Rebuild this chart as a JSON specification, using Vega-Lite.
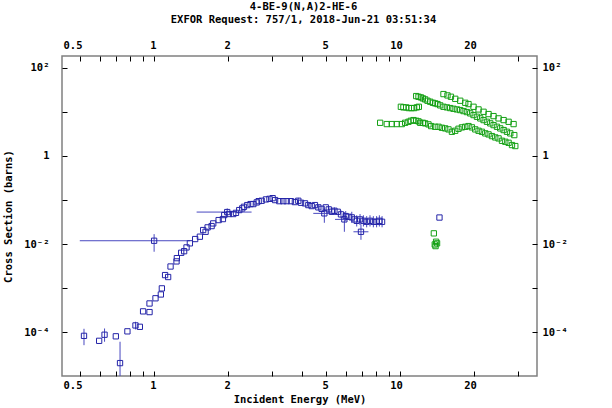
{
  "$schema": "https://vega.github.io/schema/vega-lite/v6.json",
  "autosize": {"type": "none"},
  "padding": {"left": 62, "top": 56, "right": 75, "bottom": 32},
  "width": 475,
  "height": 320,
  "background": "white",
  "config": {
    "view": {"stroke": "#808080", "strokeWidth": 1.5},
    "font": "DejaVu Sans Mono"
  },
  "title": {
    "text": ["4-BE-9(N,A)2-HE-6", "EXFOR Request: 757/1, 2018-Jun-21 03:51:34"],
    "font": "DejaVu Sans Mono",
    "fontWeight": "bold",
    "fontSize": 10.5,
    "lineHeight": 13,
    "anchor": "middle",
    "dx": 4,
    "offset": 15,
    "color": "black"
  },
  "datasets": {
    "blue": [
      {"e": 0.519, "s": 8.3e-5, "lo": 5.1e-5, "hi": 1.2e-4},
      {"e": 0.598, "s": 6.4e-5},
      {"e": 0.629, "s": 8.8e-5, "lo": 6.1e-5, "hi": 1.22e-4},
      {"e": 0.699, "s": 8.1e-5},
      {"e": 0.727, "s": 2.0e-5, "lo": 1e-6, "hi": 6.1e-5},
      {"e": 0.779, "s": 1.05e-4},
      {"e": 0.840, "s": 1.43e-4, "lo": 1.16e-4, "hi": 1.73e-4},
      {"e": 0.875, "s": 1.33e-4},
      {"e": 0.902, "s": 2.98e-4},
      {"e": 0.958, "s": 2.87e-4},
      {"e": 0.958, "s": 4.5e-4},
      {"e": 1.0, "s": 0.0119, "lo": 0.0067, "hi": 0.0168, "xlo": 0.499, "xhi": 1.397},
      {"e": 1.013, "s": 5.9e-4},
      {"e": 1.065, "s": 7.2e-4},
      {"e": 1.075, "s": 9.9e-4},
      {"e": 1.108, "s": 1.98e-3},
      {"e": 1.140, "s": 1.79e-3},
      {"e": 1.166, "s": 3.1e-3},
      {"e": 1.233, "s": 4.05e-3},
      {"e": 1.237, "s": 4.8e-3},
      {"e": 1.288, "s": 6.35e-3},
      {"e": 1.324, "s": 6.9e-3},
      {"e": 1.354, "s": 8.4e-3},
      {"e": 1.397, "s": 0.0104},
      {"e": 1.468, "s": 0.013},
      {"e": 1.534, "s": 0.0147},
      {"e": 1.582, "s": 0.0208},
      {"e": 1.618, "s": 0.019},
      {"e": 1.649, "s": 0.0239},
      {"e": 1.712, "s": 0.0256},
      {"e": 1.738, "s": 0.0294},
      {"e": 1.828, "s": 0.035},
      {"e": 1.903, "s": 0.0369},
      {"e": 1.927, "s": 0.0455},
      {"e": 1.981, "s": 0.0532, "lo": 0.0416, "hi": 0.0645, "xlo": 1.488, "xhi": 2.488},
      {"e": 2.01, "s": 0.048},
      {"e": 2.096, "s": 0.048},
      {"e": 2.15, "s": 0.051},
      {"e": 2.217, "s": 0.059},
      {"e": 2.28, "s": 0.0645},
      {"e": 2.317, "s": 0.070},
      {"e": 2.389, "s": 0.0766},
      {"e": 2.464, "s": 0.0807},
      {"e": 2.53, "s": 0.0807},
      {"e": 2.61, "s": 0.088},
      {"e": 2.658, "s": 0.094},
      {"e": 2.734, "s": 0.096},
      {"e": 2.846, "s": 0.103},
      {"e": 2.94, "s": 0.106},
      {"e": 3.03, "s": 0.110},
      {"e": 3.10, "s": 0.0995},
      {"e": 3.224, "s": 0.094},
      {"e": 3.346, "s": 0.094},
      {"e": 3.455, "s": 0.094},
      {"e": 3.596, "s": 0.094},
      {"e": 3.73, "s": 0.0896},
      {"e": 3.851, "s": 0.096, "lo": 0.082, "hi": 0.112},
      {"e": 3.95, "s": 0.0865},
      {"e": 4.10, "s": 0.0838},
      {"e": 4.23, "s": 0.0766, "lo": 0.068, "hi": 0.086},
      {"e": 4.366, "s": 0.0727},
      {"e": 4.50, "s": 0.0766},
      {"e": 4.645, "s": 0.068, "lo": 0.059, "hi": 0.078},
      {"e": 4.79, "s": 0.063},
      {"e": 4.913, "s": 0.0497, "lo": 0.0304, "hi": 0.0645, "xlo": 4.43, "xhi": 5.53},
      {"e": 4.98, "s": 0.068},
      {"e": 5.12, "s": 0.0612, "lo": 0.052, "hi": 0.072},
      {"e": 5.27, "s": 0.054},
      {"e": 5.40, "s": 0.0569, "lo": 0.047, "hi": 0.068},
      {"e": 5.57, "s": 0.054},
      {"e": 5.74, "s": 0.0472, "lo": 0.038, "hi": 0.058},
      {"e": 5.925, "s": 0.0363, "lo": 0.019, "hi": 0.053, "xlo": 5.43, "xhi": 6.26},
      {"e": 6.0, "s": 0.0432, "lo": 0.033, "hi": 0.056},
      {"e": 6.16, "s": 0.0416},
      {"e": 6.35, "s": 0.0403, "lo": 0.030, "hi": 0.054},
      {"e": 6.52, "s": 0.0363},
      {"e": 6.65, "s": 0.0337, "lo": 0.025, "hi": 0.045},
      {"e": 6.86, "s": 0.0363, "lo": 0.027, "hi": 0.048},
      {"e": 6.92, "s": 0.019, "lo": 0.0125, "hi": 0.028, "xlo": 6.45, "xhi": 7.42},
      {"e": 7.08, "s": 0.0337, "lo": 0.025, "hi": 0.045},
      {"e": 7.30, "s": 0.032, "lo": 0.024, "hi": 0.043},
      {"e": 7.53, "s": 0.0337, "lo": 0.025, "hi": 0.045},
      {"e": 7.77, "s": 0.032, "lo": 0.024, "hi": 0.043},
      {"e": 8.01, "s": 0.032, "lo": 0.024, "hi": 0.043},
      {"e": 8.22, "s": 0.0337, "lo": 0.025, "hi": 0.045},
      {"e": 8.43, "s": 0.032, "lo": 0.024, "hi": 0.043},
      {"e": 14.42, "s": 0.040}
    ],
    "green": [
      {"e": 8.28, "s": 5.63}, {"e": 8.81, "s": 5.26}, {"e": 9.23, "s": 5.26}, {"e": 9.67, "s": 5.26},
      {"e": 10.14, "s": 5.26}, {"e": 10.46, "s": 5.63}, {"e": 10.79, "s": 5.93}, {"e": 11.03, "s": 6.25},
      {"e": 11.31, "s": 6.48}, {"e": 11.60, "s": 6.25}, {"e": 11.85, "s": 6.06}, {"e": 12.04, "s": 5.63},
      {"e": 12.35, "s": 5.63}, {"e": 12.61, "s": 5.46}, {"e": 13.01, "s": 5.18}, {"e": 13.34, "s": 4.74},
      {"e": 13.85, "s": 4.57}, {"e": 14.29, "s": 4.57}, {"e": 14.75, "s": 4.34}, {"e": 15.21, "s": 4.2},
      {"e": 15.69, "s": 3.99}, {"e": 16.20, "s": 3.52}, {"e": 16.71, "s": 3.71}, {"e": 17.23, "s": 4.12},
      {"e": 17.79, "s": 4.43}, {"e": 18.35, "s": 4.57}, {"e": 18.92, "s": 4.74}, {"e": 19.53, "s": 4.43},
      {"e": 20.15, "s": 3.99}, {"e": 20.78, "s": 3.71}, {"e": 21.45, "s": 3.52}, {"e": 22.13, "s": 3.24},
      {"e": 22.82, "s": 3.07}, {"e": 23.56, "s": 2.81}, {"e": 24.30, "s": 2.62}, {"e": 25.06, "s": 2.49},
      {"e": 25.87, "s": 2.20}, {"e": 26.69, "s": 2.09}, {"e": 27.53, "s": 1.98}, {"e": 28.41, "s": 1.76},
      {"e": 29.31, "s": 1.67},
      {"e": 10.05, "s": 12.98}, {"e": 10.29, "s": 12.58}, {"e": 10.56, "s": 12.58}, {"e": 10.83, "s": 12.13},
      {"e": 11.10, "s": 12.13}, {"e": 11.38, "s": 12.13}, {"e": 11.67, "s": 12.58}, {"e": 11.89, "s": 12.98},
      {"e": 11.60, "s": 22.7}, {"e": 11.85, "s": 21.9}, {"e": 12.12, "s": 21.2}, {"e": 12.35, "s": 20.1},
      {"e": 12.61, "s": 19.1}, {"e": 12.89, "s": 17.8}, {"e": 13.22, "s": 16.9}, {"e": 13.56, "s": 16.0},
      {"e": 13.85, "s": 15.5}, {"e": 14.16, "s": 14.95}, {"e": 14.52, "s": 13.97}, {"e": 14.97, "s": 12.98},
      {"e": 15.46, "s": 12.58}, {"e": 15.94, "s": 12.13}, {"e": 16.44, "s": 11.7}, {"e": 16.98, "s": 11.3},
      {"e": 17.51, "s": 10.93}, {"e": 18.06, "s": 10.37}, {"e": 18.64, "s": 9.84}, {"e": 19.23, "s": 9.2},
      {"e": 19.83, "s": 8.42}, {"e": 20.47, "s": 7.7}, {"e": 21.12, "s": 7.08}, {"e": 21.78, "s": 6.48},
      {"e": 22.48, "s": 5.93}, {"e": 23.19, "s": 5.46}, {"e": 23.91, "s": 4.99}, {"e": 24.69, "s": 4.57},
      {"e": 25.46, "s": 4.2}, {"e": 26.27, "s": 3.85}, {"e": 27.11, "s": 3.52}, {"e": 27.96, "s": 3.24},
      {"e": 29.03, "s": 2.96},
      {"e": 14.97, "s": 25.2}, {"e": 15.54, "s": 23.5}, {"e": 16.05, "s": 21.9}, {"e": 16.71, "s": 19.7},
      {"e": 17.51, "s": 17.8}, {"e": 18.35, "s": 16.0}, {"e": 18.92, "s": 14.95}, {"e": 19.83, "s": 12.98},
      {"e": 20.78, "s": 11.3}, {"e": 21.78, "s": 10.0}, {"e": 22.82, "s": 8.87}, {"e": 23.91, "s": 7.98},
      {"e": 25.06, "s": 7.08}, {"e": 26.27, "s": 6.48}, {"e": 27.53, "s": 5.93}, {"e": 28.84, "s": 5.26},
      {"e": 13.68, "s": 0.0175}, {"e": 13.97, "s": 0.0113}, {"e": 14.1, "s": 0.0104}, {"e": 13.8, "s": 0.0098}, {"e": 13.9, "s": 0.009}
    ]
  },
  "resolve": {"axis": {"x": "independent", "y": "independent"}},
  "layer": [
    {
      "data": {"name": "blue"},
      "transform": [{"filter": "isValid(datum.lo)"}],
      "mark": {"type": "rule", "color": "#4848c0", "strokeWidth": 1, "clip": true},
      "encoding": {
        "x": {"field": "e", "type": "quantitative",
          "scale": {"type": "log", "domain": [0.4225, 35.9], "nice": false, "zero": false},
          "axis": {
            "orient": "bottom",
            "title": "Incident Energy (MeV)",
            "values": [0.5, 0.6, 0.7, 0.8, 0.9, 1, 2, 3, 4, 5, 6, 7, 8, 9, 10, 20, 30],
            "format": "~g",
            "labelExpr": "indexof([0.5, 1, 2, 5, 10, 20], datum.value) >= 0 ? datum.label : ''",
            "labelFont": "DejaVu Sans Mono", "labelFontWeight": "bold", "labelFontSize": 10.5, "labelColor": "black",
            "labelAlign": "right", "labelOffset": 2, "labelPadding": 9, "labelOverlap": false, "labelFlush": false,
            "tickSize": -5, "tickColor": "black", "tickWidth": 1,
            "domain": false, "grid": false,
            "titleFont": "DejaVu Sans Mono", "titleFontWeight": "bold", "titleFontSize": 10.5, "titleColor": "black", "titlePadding": 4
          }
        },
        "y": {"field": "lo", "type": "quantitative",
          "scale": {"type": "log", "domain": [1.02e-5, 184], "nice": false, "zero": false},
          "axis": {
            "orient": "left",
            "title": "Cross Section (barns)",
            "values": [0.0001, 0.001, 0.01, 0.1, 1, 10, 100],
            "labelExpr": "datum.value >= 50 ? '10²' : (datum.value >= 0.5 && datum.value < 5) ? '1' : (datum.value >= 0.005 && datum.value < 0.05) ? '10⁻²' : (datum.value >= 0.00005 && datum.value < 0.0005) ? '10⁻⁴' : ''",
            "labelFont": "DejaVu Sans Mono", "labelFontWeight": "bold", "labelFontSize": 10.5, "labelColor": "black",
            "labelPadding": 18, "labelOverlap": false, "labelFlush": false,
            "tickSize": -5, "tickColor": "black", "tickWidth": 1,
            "domain": false, "grid": false,
            "titleFont": "DejaVu Sans Mono", "titleFontWeight": "bold", "titleFontSize": 10.5, "titleColor": "black", "titlePadding": 10
          }
        },
        "y2": {"field": "hi"}
      }
    },
    {
      "data": {"name": "blue"},
      "transform": [{"filter": "isValid(datum.xlo)"}],
      "mark": {"type": "rule", "color": "#4848c0", "strokeWidth": 1, "clip": true},
      "encoding": {
        "x": {"field": "xlo", "type": "quantitative",
          "scale": {"type": "log", "domain": [0.4225, 35.9], "nice": false, "zero": false},
          "axis": {
            "orient": "top",
            "title": null,
            "values": [0.5, 0.6, 0.7, 0.8, 0.9, 1, 2, 3, 4, 5, 6, 7, 8, 9, 10, 20, 30],
            "format": "~g",
            "labelExpr": "indexof([0.5, 1, 2, 5, 10, 20], datum.value) >= 0 ? datum.label : ''",
            "labelFont": "DejaVu Sans Mono", "labelFontWeight": "bold", "labelFontSize": 10.5, "labelColor": "black",
            "labelAlign": "right", "labelOffset": 2, "labelPadding": 11, "labelOverlap": false, "labelFlush": false,
            "tickSize": -5, "tickColor": "black", "tickWidth": 1,
            "domain": false, "grid": false
          }
        },
        "x2": {"field": "xhi"},
        "y": {"field": "s", "type": "quantitative",
          "scale": {"type": "log", "domain": [1.02e-5, 184], "nice": false, "zero": false},
          "axis": {
            "orient": "right",
            "title": null,
            "values": [0.0001, 0.001, 0.01, 0.1, 1, 10, 100],
            "labelExpr": "datum.value >= 50 ? '10²' : (datum.value >= 0.5 && datum.value < 5) ? '1' : (datum.value >= 0.005 && datum.value < 0.05) ? '10⁻²' : (datum.value >= 0.00005 && datum.value < 0.0005) ? '10⁻⁴' : ''",
            "labelFont": "DejaVu Sans Mono", "labelFontWeight": "bold", "labelFontSize": 10.5, "labelColor": "black",
            "labelPadding": 10, "labelOverlap": false, "labelFlush": false,
            "tickSize": -5, "tickColor": "black", "tickWidth": 1,
            "domain": false, "grid": false
          }
        }
      }
    },
    {
      "data": {"name": "blue"},
      "mark": {"type": "point", "shape": "square", "filled": false, "size": 28, "strokeWidth": 1, "color": "#2424a8", "opacity": 1, "clip": true},
      "encoding": {
        "x": {"field": "e", "type": "quantitative", "scale": {"type": "log", "domain": [0.4225, 35.9], "nice": false, "zero": false}, "axis": null},
        "y": {"field": "s", "type": "quantitative", "scale": {"type": "log", "domain": [1.02e-5, 184], "nice": false, "zero": false}, "axis": null}
      }
    },
    {
      "data": {"name": "green"},
      "mark": {"type": "point", "shape": "square", "filled": false, "size": 28, "strokeWidth": 1, "color": "#14a014", "opacity": 1, "clip": true},
      "encoding": {
        "x": {"field": "e", "type": "quantitative", "scale": {"type": "log", "domain": [0.4225, 35.9], "nice": false, "zero": false}, "axis": null},
        "y": {"field": "s", "type": "quantitative", "scale": {"type": "log", "domain": [1.02e-5, 184], "nice": false, "zero": false}, "axis": null}
      }
    }
  ]
}
